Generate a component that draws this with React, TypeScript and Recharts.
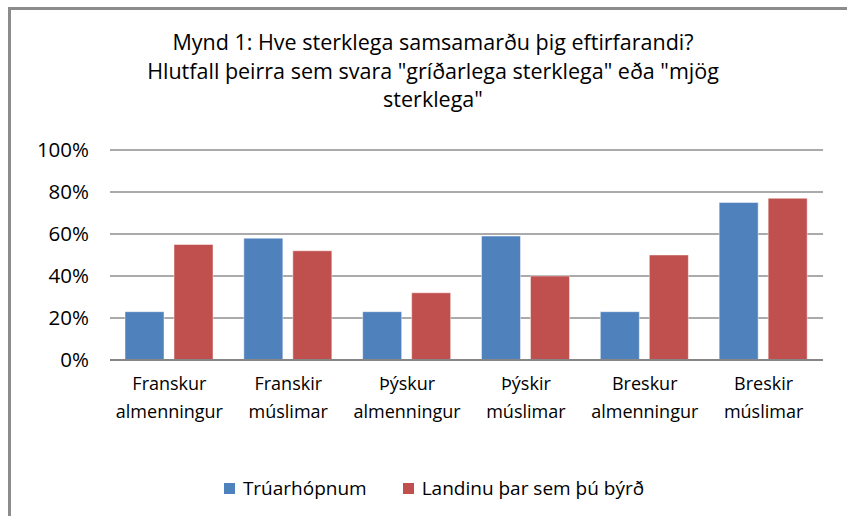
import { BarChart, Bar, XAxis, YAxis, CartesianGrid, Legend } from "recharts";

const categories = [
  "Franskur\nalmenningur",
  "Franskir\nmúslimar",
  "Þýskur\nalmenningur",
  "Þýskir\nmúslimar",
  "Breskur\nalmenningur",
  "Breskir\nmúslimar",
];
const truarhopnum = [23, 58, 23, 59, 23, 75];
const landinu = [55, 52, 32, 40, 50, 77];
const yTicks = [0, 20, 40, 60, 80, 100];

const SERIES = [
  { key: "a", name: "Trúarhópnum", color: "#4F81BD" },
  { key: "b", name: "Landinu þar sem þú býrð", color: "#C0504D" },
];

const FONT = "'Open Sans', sans-serif";

const data = categories.map((c, i) => ({
  name: c,
  a: truarhopnum[i],
  b: landinu[i],
}));

function CategoryTick(props: any) {
  const { x, y, payload } = props;
  const lines = String(payload.value).split("\n");
  return (
    <text
      x={x}
      y={y}
      textAnchor="middle"
      fill="#000"
      fontSize={18}
      fontFamily={FONT}
    >
      {lines.map((l, i) => (
        <tspan key={i} x={x} dy={i === 0 ? 22 : 28}>
          {l}
        </tspan>
      ))}
    </text>
  );
}

function LegendContent() {
  return (
    <div
      style={{
        display: "flex",
        justifyContent: "center",
        alignItems: "center",
        fontFamily: FONT,
        fontSize: 19,
        color: "#000",
        height: 28,
      }}
    >
      {SERIES.map((s, i) => (
        <div
          key={s.key}
          style={{
            display: "flex",
            alignItems: "center",
            marginLeft: i === 0 ? 0 : 36,
          }}
        >
          <span
            style={{
              width: 11,
              height: 11,
              background: s.color,
              display: "inline-block",
              marginRight: 8,
            }}
          />
          <span>{s.name}</span>
        </div>
      ))}
    </div>
  );
}

export default function App() {
  return (
    <div
      style={{
        position: "absolute",
        left: 0,
        top: 0,
        width: 847,
        height: 516,
        overflow: "hidden",
        background: "#fff",
      }}
    >
      <div
        style={{
          position: "absolute",
          left: 8,
          top: 7,
          width: 900,
          height: 600,
          borderTop: "3px solid #8c8c8c",
          borderLeft: "3px solid #8c8c8c",
        }}
      />
      <div
        style={{
          position: "absolute",
          left: 0,
          top: 28,
          width: 866,
          textAlign: "center",
          fontFamily: FONT,
          fontSize: 21.5,
          lineHeight: "28.5px",
          color: "#000",
        }}
      >
        Mynd 1: Hve sterklega samsamarðu þig eftirfarandi?
        <br />
        Hlutfall þeirra sem svara "gríðarlega sterklega" eða "mjög
        <br />
        sterklega"
      </div>
      <div style={{ position: "absolute", left: 0, top: 0 }}>
        <BarChart
          width={847}
          height={516}
          data={data}
          margin={{ top: 150, right: 24, bottom: 68, left: 0 }}
          barGap={10}
          barCategoryGap={15}
        >
          <CartesianGrid
            vertical={false}
            stroke="#8e8e8e"
            strokeWidth={1.6}
          />
          <XAxis
            dataKey="name"
            tick={<CategoryTick />}
            tickLine={false}
            axisLine={{ stroke: "#868686", strokeWidth: 2 }}
            interval={0}
            height={60}
          />
          <YAxis
            domain={[0, 100]}
            ticks={yTicks}
            interval={0}
            tickFormatter={(v: number) => `${v}%`}
            width={110}
            axisLine={false}
            tickLine={false}
            tickMargin={15}
            tick={{ fill: "#000", fontSize: 20.5, fontFamily: FONT }}
          />
          <Legend
            content={<LegendContent />}
            wrapperStyle={{ position: "absolute", left: 0, top: 474, width: 868, height: 28 }}
          />
          {SERIES.map((s) => (
            <Bar
              key={s.key}
              dataKey={s.key}
              name={s.name}
              fill={s.color}
              stroke="rgba(255,255,255,0.45)"
              strokeWidth={1}
              isAnimationActive={false}
            />
          ))}
        </BarChart>
      </div>
    </div>
  );
}
